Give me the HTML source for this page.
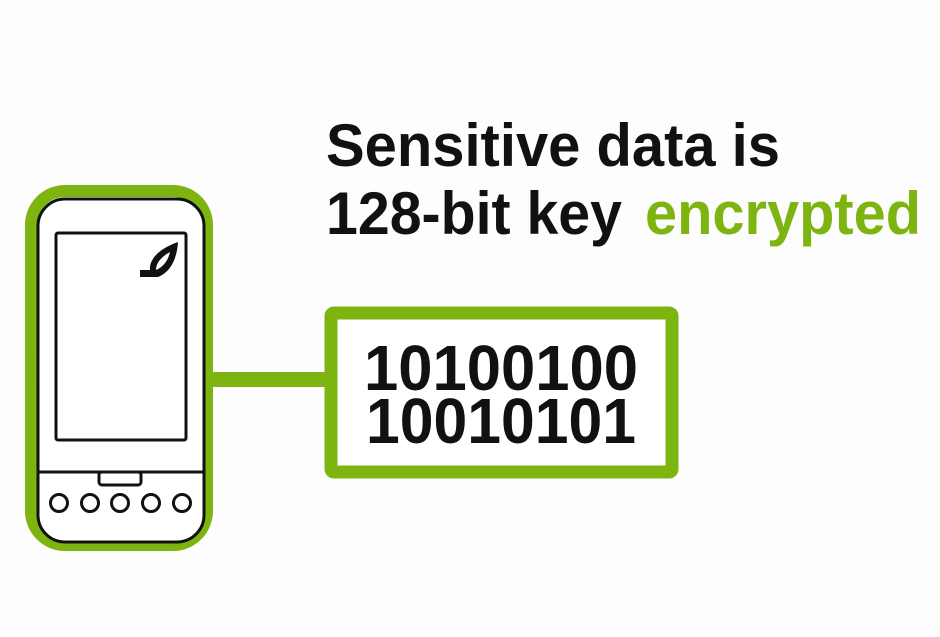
<!DOCTYPE html>
<html><head><style>
html,body{margin:0;padding:0;background:#fff;}
svg{display:block}
</style></head><body>
<svg width="940" height="637" viewBox="0 0 940 637" xmlns="http://www.w3.org/2000/svg">
<rect width="940" height="637" fill="#fdfdfd"/>
<rect x="208" y="372" width="122" height="15" fill="#7db40f"/>
<rect x="31" y="191" width="176" height="354" rx="34" fill="#fff" stroke="#7db40f" stroke-width="12"/>
<rect x="38" y="199" width="166" height="343" rx="27" fill="#fff" stroke="#111" stroke-width="3"/>
<rect x="56" y="233" width="130" height="207" rx="2" fill="#fff" stroke="#111" stroke-width="3"/>
<path d="M39 472 H203" stroke="#111" stroke-width="3"/>
<rect x="99" y="472" width="42" height="13" rx="3" fill="#fff" stroke="#111" stroke-width="3"/>
<g fill="#fff" stroke="#111" stroke-width="3">
<circle cx="59" cy="503" r="8.5"/>
<circle cx="90" cy="503" r="8.5"/>
<circle cx="120" cy="503" r="8.5"/>
<circle cx="151" cy="503" r="8.5"/>
<circle cx="182" cy="503" r="8.5"/>
</g>
<path d="M140 277 L140 270 L150 270 C149 260 158 249 178 242 C177 258 171 272 158 277 Z M156 270 C163 267 168 261 170 252 C161 257 156 263 156 270 Z" fill="#111" fill-rule="evenodd"/>
<rect x="331" y="313" width="341" height="159" rx="3" fill="#fff" stroke="#7db40f" stroke-width="13"/>
<g font-family="'Liberation Sans', Arial, sans-serif" font-weight="bold">
<text x="326" y="166" font-size="60" fill="#111" textLength="454" lengthAdjust="spacingAndGlyphs">Sensitive data is</text>
<text x="326" y="234" font-size="60" fill="#111" textLength="296" lengthAdjust="spacingAndGlyphs">128-bit key</text>
<text x="645" y="234" font-size="60" fill="#7db40f" textLength="276" lengthAdjust="spacingAndGlyphs">encrypted</text>
<text x="364" y="390" font-size="64" fill="#111" textLength="274" lengthAdjust="spacingAndGlyphs">10100100</text>
<text x="366" y="443" font-size="64" fill="#111" textLength="270" lengthAdjust="spacingAndGlyphs">10010101</text>
</g>
</svg>
</body></html>
